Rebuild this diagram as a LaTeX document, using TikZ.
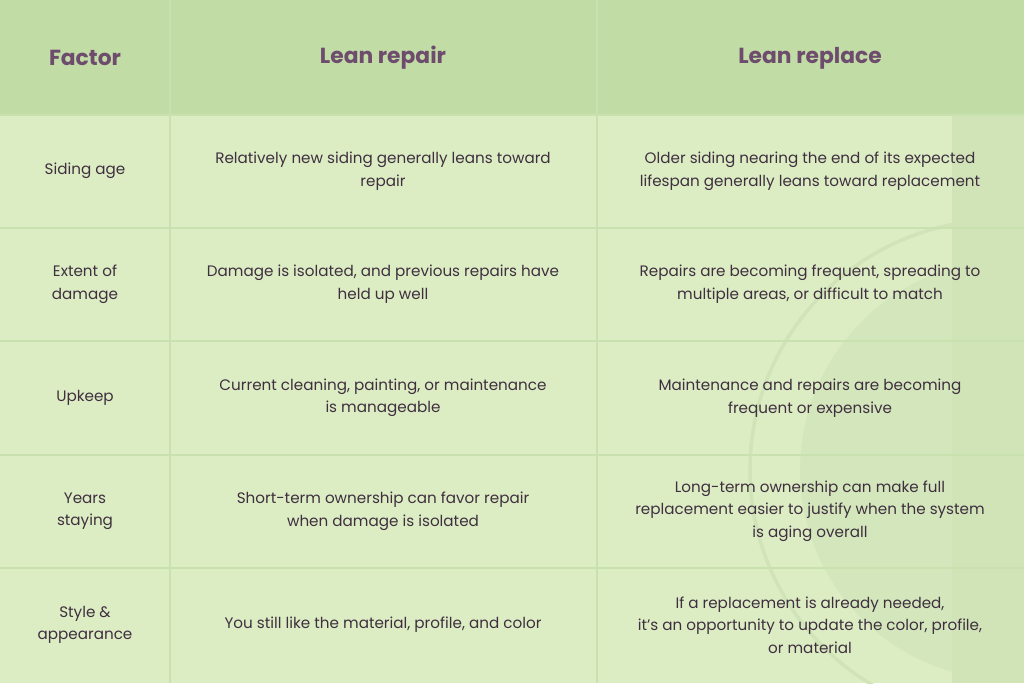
\documentclass[tikz,border=0pt]{standalone}
\usepackage{fontspec}
\setmainfont{Poppins}
\usetikzlibrary{positioning}
\definecolor{headbg}{HTML}{C2DCA6}
\definecolor{bodybg}{HTML}{DCEDC4}
\definecolor{gridln}{HTML}{C9E1AF}
\definecolor{headtx}{HTML}{6D4C6D}
\definecolor{bodytx}{HTML}{3F2F3F}
\definecolor{decor}{HTML}{D0E4B8}
\begin{document}
\begin{tikzpicture}[x=0.025cm,y=-0.025cm,
  head/.style={font=\fontsize{15.5}{18}\selectfont\bfseries, text=headtx},
  cell/.style={font=\fontsize{10.8}{16}\selectfont, text=bodytx, align=center}]
  \useasboundingbox (0,0) rectangle (1024,683);
  % background
  \fill[bodybg] (0,0) rectangle (1024,683);
  \fill[headbg] (0,0) rectangle (1024,115);
  % decoration
  \begin{scope}
    \clip (597,115) rectangle (1024,683);
    \fill[decor] (952,115) rectangle (1024,683);
    \draw[decor, line width=2.5pt] (1000,470) circle (250);
    \fill[decor, opacity=.6] (1010,470) circle (210);
  \end{scope}
  % grid
  \foreach \y in {115,228,341,455,568}
    \draw[gridln, line width=1.5pt] (0,\y) -- (1024,\y);
  \foreach \x in {170,597}
    \draw[gridln, line width=1.5pt] (\x,0) -- (\x,683);
  % header
  \node[head] (factor) at (85,58) {Factor};
  \node[head] (repair) at (383,58) {Lean repair};
  \node[head] (replace) at (810,58) {Lean replace};
  % rows
  \node[cell] (age) at (85,171) {Siding age};
  \node[cell] (agerep) at (383,171) {Relatively new siding generally leans toward\\repair};
  \node[cell] (agerpl) at (810,171) {Older siding nearing the end of its expected\\lifespan generally leans toward replacement};
  \node[cell] (dmg) at (85,284) {Extent of\\damage};
  \node[cell] (dmgrep) at (383,284) {Damage is isolated, and previous repairs have\\held up well};
  \node[cell] (dmgrpl) at (810,284) {Repairs are becoming frequent, spreading to\\multiple areas, or difficult to match};
  \node[cell] (keep) at (85,398) {Upkeep};
  \node[cell] (keeprep) at (383,398) {Current cleaning, painting, or maintenance\\is manageable};
  \node[cell] (keeprpl) at (810,398) {Maintenance and repairs are becoming\\frequent or expensive};
  \node[cell] (stay) at (85,511) {Years\\staying};
  \node[cell] (stayrep) at (383,511) {Short-term ownership can favor repair\\when damage is isolated};
  \node[cell] (stayrpl) at (810,511) {Long-term ownership can make full\\replacement easier to justify when the system\\is aging overall};
  \node[cell] (style) at (85,625) {Style \&\\appearance};
  \node[cell] (stylerep) at (383,625) {You still like the material, profile, and color};
  \node[cell] (stylerpl) at (810,625) {If a replacement is already needed,\\it’s an opportunity to update the color, profile,\\or material};
\end{tikzpicture}
\end{document}
